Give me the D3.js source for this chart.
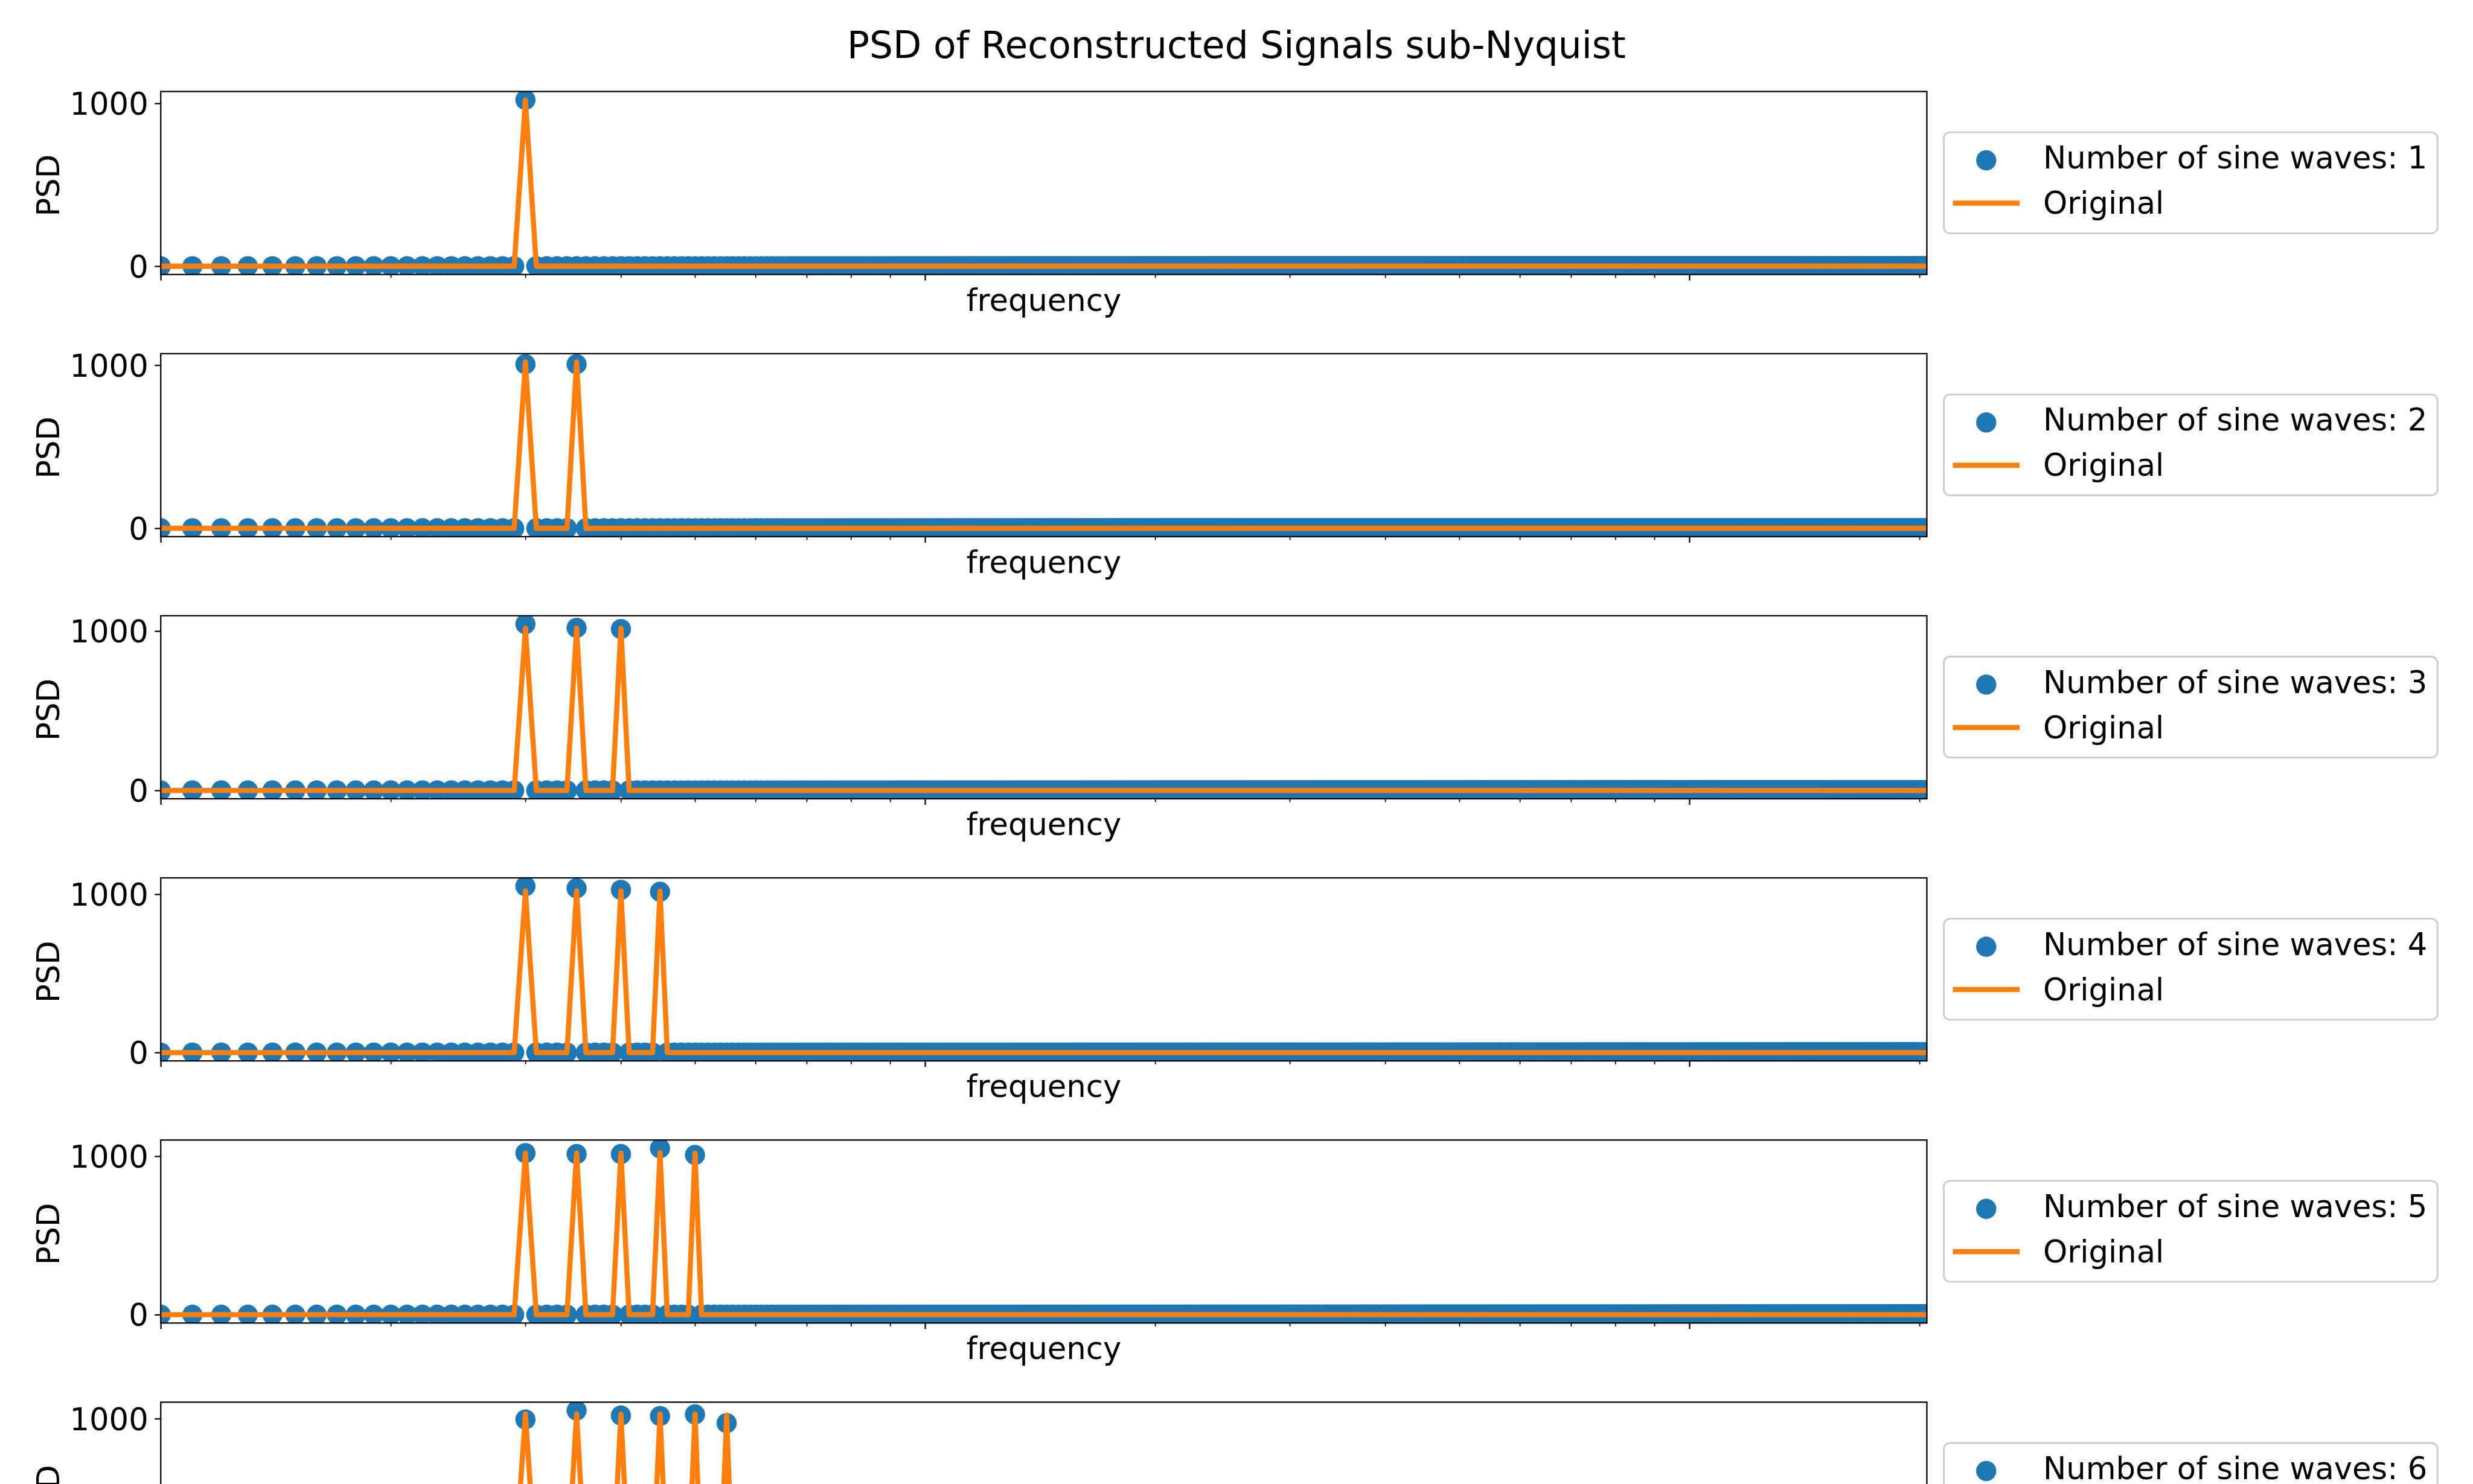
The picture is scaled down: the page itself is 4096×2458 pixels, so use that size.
<!DOCTYPE html>
<html><head><meta charset="utf-8">
<script src="https://cdn.jsdelivr.net/npm/d3@7"></script>
<style>html,body{margin:0;padding:0;background:#fff;overflow:hidden}</style>
</head><body>
<script>
// ---------------- data ----------------
const title = "PSD of Reconstructed Signals sub-Nyquist";
const xLabel = "frequency";
const yLabel = "PSD";
const originalLabel = "Original";
const sineCounts = [1, 2, 3, 4, 5, 6];
// frequency grid: 1.0 ... 204.5 in steps of 0.1 (indices in tenths)
const freqIndexStart = 10;
const freqIndexEnd = 2045;
const freqStep = 0.1;
const xDomain = [1, 204.5];
const peakFreqs = [3.0, 3.5, 4.0, 4.5, 5.0, 5.5];
const reconPeaks = [
  [1022],
  [1006, 1006],
  [1044, 1020, 1013],
  [1051, 1038, 1028, 1016],
  [1020, 1014, 1014, 1050, 1008],
  [995, 1052, 1020, 1017, 1027, 972]
];
const originalPeaks = [
  [1020],
  [1020, 1020],
  [1018, 1018, 1018],
  [1022, 1022, 1022, 1020],
  [1020, 1020, 1020, 1022, 1020],
  [1030, 1030, 1028, 1028, 1030, 1022]
];
const baselineValue = 0;
const yTickValues = [0, 1000];
const yTickLabels = ["0", "1000"];
const xMajorTicks = [1, 10, 100];
const xMinorTicks = [2, 3, 4, 5, 6, 7, 8, 9, 20, 30, 40, 50, 60, 70, 80, 90, 200];

// ---------------- layout (reference pixel units, scaled by S) ----------------
const W = 4096, H = 2458, S = W / 6000;
const axL = 390, axR = 4675, axTop0 = 222, axStep = 636, axH = 444;
const FS = 75, TFS = 90;
const blue = "#1f77b4", orange = "#ff7f0e";
const font = "'DejaVu Sans', sans-serif";

const svg = d3.select("body").append("svg")
  .attr("width", W).attr("height", H)
  .attr("viewBox", `0 0 ${W} ${H}`);
svg.append("rect").attr("width", W).attr("height", H).attr("fill", "#fff");
const root = svg.append("g").attr("transform", `scale(${S})`);

root.append("text")
  .attr("x", 3000).attr("y", 140)
  .attr("text-anchor", "middle")
  .attr("font-family", font).attr("font-size", TFS)
  .attr("fill", "#000")
  .text(title);

const x = d3.scaleLog().domain(xDomain).range([axL, axR]);
const freqs = d3.range(freqIndexStart, freqIndexEnd + 1).map(k => +(k * freqStep).toFixed(1));

function seriesFor(peaks) {
  return freqs.map(f => {
    const j = peakFreqs.findIndex(p => Math.abs(p - f) < 1e-6);
    return (j >= 0 && j < peaks.length) ? peaks[j] : baselineValue;
  });
}

sineCounts.forEach((n, i) => {
  const top = axTop0 + i * axStep, bottom = top + axH;
  const recon = seriesFor(reconPeaks[i]);
  const orig = seriesFor(originalPeaks[i]);
  const ymin = Math.min(d3.min(recon), d3.min(orig));
  const ymax = Math.max(d3.max(recon), d3.max(orig));
  const pad = 0.05 * (ymax - ymin);
  const y = d3.scaleLinear().domain([ymin - pad, ymax + pad]).range([bottom, top]);

  const g = root.append("g");
  const clipId = "clip" + i;
  g.append("clipPath").attr("id", clipId)
    .append("rect").attr("x", axL).attr("y", top).attr("width", axR - axL).attr("height", axH);

  const data = g.append("g").attr("clip-path", `url(#${clipId})`);
  data.append("g").selectAll("circle")
    .data(freqs.map((f, k) => [f, recon[k]]))
    .join("circle")
    .attr("cx", d => x(d[0])).attr("cy", d => y(d[1]))
    .attr("r", 24.5).attr("fill", blue);
  data.append("path")
    .datum(freqs.map((f, k) => [f, orig[k]]))
    .attr("d", d3.line().x(d => x(d[0])).y(d => y(d[1])))
    .attr("fill", "none").attr("stroke", orange)
    .attr("stroke-width", 12.5)
    .attr("stroke-linejoin", "round").attr("stroke-linecap", "square");

  // spines
  g.append("rect").attr("x", axL).attr("y", top).attr("width", axR - axL).attr("height", axH)
    .attr("fill", "none").attr("stroke", "#000").attr("stroke-width", 3.33);

  // x ticks (no labels)
  const xMaj = g.append("g").attr("transform", `translate(0,${bottom})`)
    .call(d3.axisBottom(x).tickValues(xMajorTicks).tickSize(14.6).tickSizeOuter(0).tickFormat(""));
  const xMin = g.append("g").attr("transform", `translate(0,${bottom})`)
    .call(d3.axisBottom(x).tickValues(xMinorTicks).tickSize(8.3).tickSizeOuter(0).tickFormat(""));
  [xMaj, xMin].forEach(a => a.select(".domain").remove());
  xMaj.selectAll(".tick line").attr("stroke", "#000").attr("stroke-width", 3.33);
  xMin.selectAll(".tick line").attr("stroke", "#000").attr("stroke-width", 2.5);

  // y ticks
  const yAx = g.append("g").attr("transform", `translate(${axL},0)`)
    .call(d3.axisLeft(y).tickValues(yTickValues).tickSize(14.6).tickPadding(15.4)
      .tickFormat((d, k) => yTickLabels[k]));
  yAx.select(".domain").remove();
  yAx.selectAll(".tick line").attr("stroke", "#000").attr("stroke-width", 3.33);
  yAx.selectAll(".tick text")
    .attr("font-family", font).attr("font-size", FS).attr("fill", "#000")
    .attr("dy", "0.36em");

  // axis labels
  g.append("text")
    .attr("x", (axL + axR) / 2).attr("y", bottom + 87.7)
    .attr("text-anchor", "middle")
    .attr("font-family", font).attr("font-size", FS).attr("fill", "#000")
    .text(xLabel);
  g.append("text")
    .attr("transform", `translate(142.9,${top + axH / 2 + 6}) rotate(-90)`)
    .attr("text-anchor", "middle")
    .attr("font-family", font).attr("font-size", FS).attr("fill", "#000")
    .text(yLabel);

  // legend
  const lg = g.append("g").attr("transform", `translate(4716,${top + axH / 2 - 123})`);
  lg.append("rect").attr("x", 0).attr("y", 0).attr("width", 1198).attr("height", 245)
    .attr("rx", 15).attr("ry", 15)
    .attr("fill", "#fff").attr("fill-opacity", 0.8)
    .attr("stroke", "#cccccc").attr("stroke-width", 4.17);
  lg.append("circle").attr("cx", 103).attr("cy", 68).attr("r", 24.5).attr("fill", blue);
  lg.append("line").attr("x1", 22).attr("x2", 184).attr("y1", 172).attr("y2", 172)
    .attr("stroke", orange).attr("stroke-width", 12.5);
  lg.append("text").attr("x", 241).attr("y", 88)
    .attr("font-family", font).attr("font-size", FS).attr("fill", "#000")
    .text(`Number of sine waves: ${n}`);
  lg.append("text").attr("x", 241).attr("y", 198)
    .attr("font-family", font).attr("font-size", FS).attr("fill", "#000")
    .text(originalLabel);
});
</script>
</body></html>
